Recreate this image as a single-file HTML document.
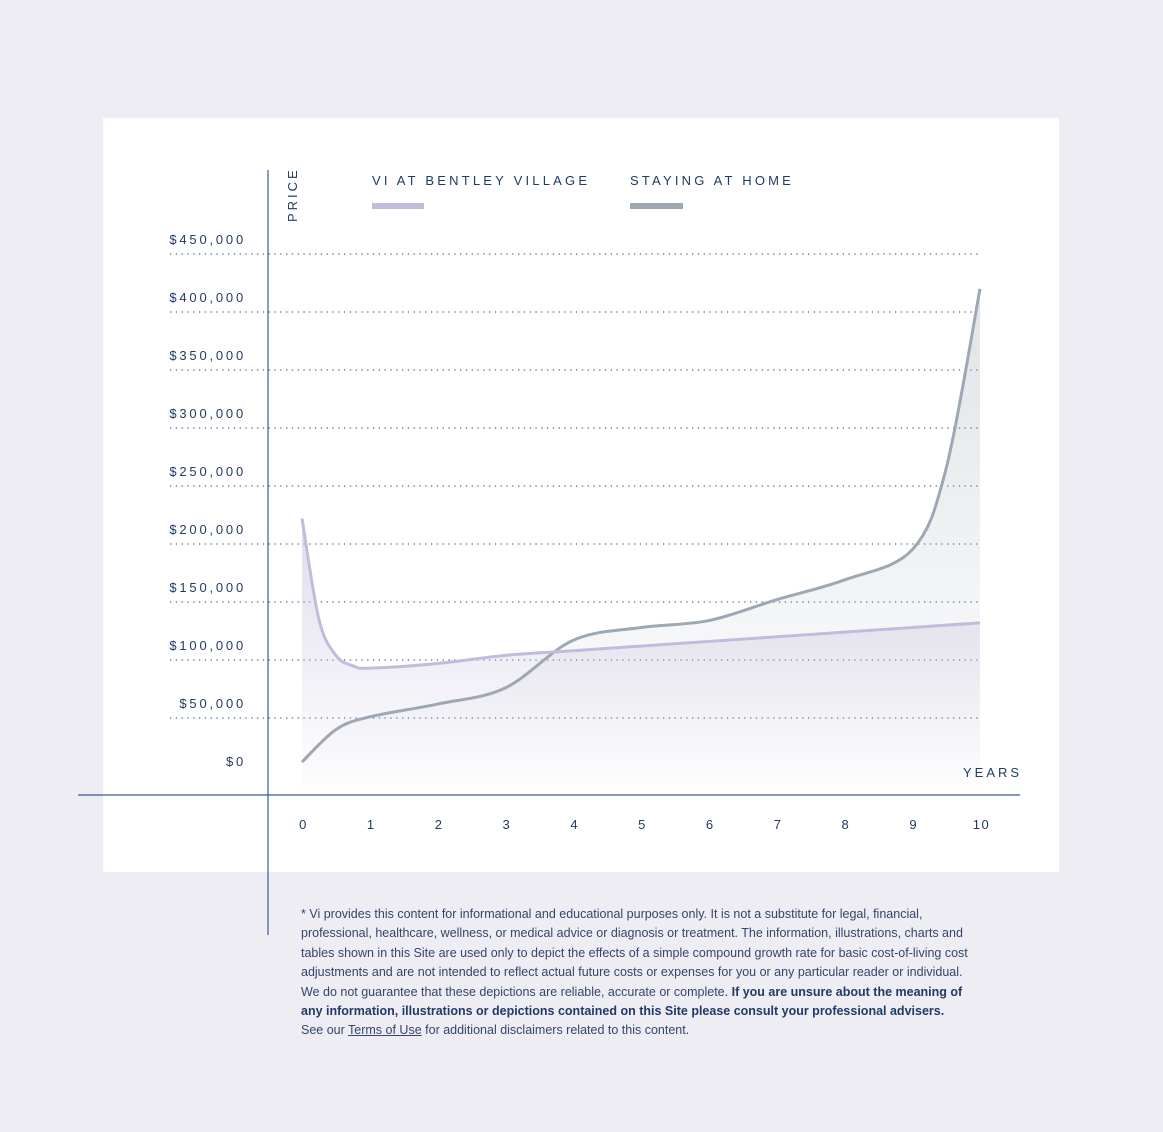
<!DOCTYPE html>
<html><head><meta charset="utf-8"><style>
body{margin:0;width:1163px;height:1132px;background:#eeedf3;font-family:"Liberation Sans",sans-serif;position:relative;overflow:hidden}
#card{position:absolute;left:103px;top:118px;width:956px;height:754px;background:#fff}
#foot{position:absolute;left:301px;top:905px;width:675px;font-size:12.5px;line-height:19.4px;color:#34466b}
#foot b{color:#223a66}
#foot a{color:#34466b;text-decoration:underline}
</style></head><body>
<div id="card"></div>
<svg id="chart" width="1163" height="1132" style="position:absolute;left:0;top:0">
<defs>
<linearGradient id="gp" x1="0" y1="0" x2="0" y2="1"><stop offset="0" stop-color="#c7c1dc" stop-opacity="0.55"/><stop offset="1" stop-color="#c7c1dc" stop-opacity="0"/></linearGradient>
<linearGradient id="gg" x1="0" y1="0" x2="0" y2="1"><stop offset="0" stop-color="#a7b0bc" stop-opacity="0.35"/><stop offset="1" stop-color="#a7b0bc" stop-opacity="0"/></linearGradient>
</defs>
<g id="grid"></g><g id="areas"></g><g id="lines"></g><g id="labels"></g>
<line x1="268" y1="170" x2="268" y2="935" stroke="#3a5a95" stroke-width="1.2"/>
<line x1="78" y1="795" x2="1020" y2="795" stroke="#3a5a95" stroke-width="1.2"/>
<text x="297" y="222" transform="rotate(-90 297 222)" font-size="13" letter-spacing="3" fill="#223a66">PRICE</text>
<text x="963" y="777" font-size="13" letter-spacing="3" fill="#223a66">YEARS</text>
<text x="372" y="185" font-size="13" letter-spacing="3.2" fill="#223a66">VI AT BENTLEY VILLAGE</text>
<rect x="372" y="203" width="52" height="6" fill="#c3bbdb"/>
<text x="630" y="185" font-size="13" letter-spacing="3.2" fill="#223a66">STAYING AT HOME</text>
<rect x="630" y="203" width="53" height="6" fill="#9ea8b3"/>
</svg>
<div id="foot">* Vi provides this content for informational and educational purposes only. It is not a substitute for legal, financial, professional, healthcare, wellness, or medical advice or diagnosis or treatment. The information, illustrations, charts and tables shown in this Site are used only to depict the effects of a simple compound growth rate for basic cost-of-living cost adjustments and are not intended to reflect actual future costs or expenses for you or any particular reader or individual. We do not guarantee that these depictions are reliable, accurate or complete. <b>If you are unsure about the meaning of any information, illustrations or depictions contained on this Site please consult your professional advisers.</b><br>See our <a>Terms of Use</a> for additional disclaimers related to this content.</div>
<script>
const viYears=[0,0.25,0.5,0.75,1,2,3,4,5,6,7,8,9,10];
const viValues=[222000,135000,104000,95000,93000,97000,104000,108000,112000,116000,120000,124000,128000,132000];
const homeYears=[0,0.5,1,2,3,4,5,6,7,8,9,9.5,10];
const homeValues=[12000,40000,51000,62000,76000,117000,128000,134000,152000,169000,195000,265000,420000];
const yTicks=[0,50000,100000,150000,200000,250000,300000,350000,400000,450000];
const xTicks=[0,1,2,3,4,5,6,7,8,9,10];
const NS="http://www.w3.org/2000/svg";
const X=v=>302+v*67.8, Y=v=>776-v/50000*58;
function mk(t,a,p){const e=document.createElementNS(NS,t);for(const k in a)e.setAttribute(k,a[k]);document.getElementById(p).appendChild(e);return e;}
yTicks.forEach(v=>{
 if(v>0){const l=mk('line',{x1:170,x2:980,y1:Y(v),y2:Y(v),stroke:'#4a6498','stroke-width':1.3,'stroke-dasharray':'1.3 4.5'},'grid');
 
 }
 const t=mk('text',{x:246,y:Y(v)-10,'text-anchor':'end','font-size':13,'letter-spacing':2.8,fill:'#223a66'},'labels');
 t.textContent='$'+v.toLocaleString('en-US');
 
 
});
xTicks.forEach(v=>{const t=mk('text',{x:X(v)+1.5,y:829,'text-anchor':'middle','font-size':13,'letter-spacing':1.5,fill:'#223a66'},'labels');
 t.textContent=v;
 
 });
function path(xs,vals){const p=xs.map((x,i)=>[X(x),Y(vals[i])]);let d='M'+p[0].join(',');
 for(let i=0;i<p.length-1;i++){const p0=p[i-1]||p[i],p1=p[i],p2=p[i+1],p3=p[i+2]||p2;
 d+=` C${p1[0]+(p2[0]-p0[0])/6},${p1[1]+(p2[1]-p0[1])/6} ${p2[0]-(p3[0]-p1[0])/6},${p2[1]-(p3[1]-p1[1])/6} ${p2[0]},${p2[1]}`;}return d;}
[[homeYears,homeValues,'#9ea8b3','url(#gg)','home'],[viYears,viValues,'#c3bbdb','url(#gp)','vi']].forEach(([xs,v,c,g,n])=>{
 const d=path(xs,v);
 const a=mk('path',{d:d+` L${X(10)},795 L${X(0)},795 Z`,fill:g},'areas');
 
 
 const l=mk('path',{d:d,fill:'none',stroke:c,'stroke-width':3},'lines');
 
 
});
</script>
</body></html>
